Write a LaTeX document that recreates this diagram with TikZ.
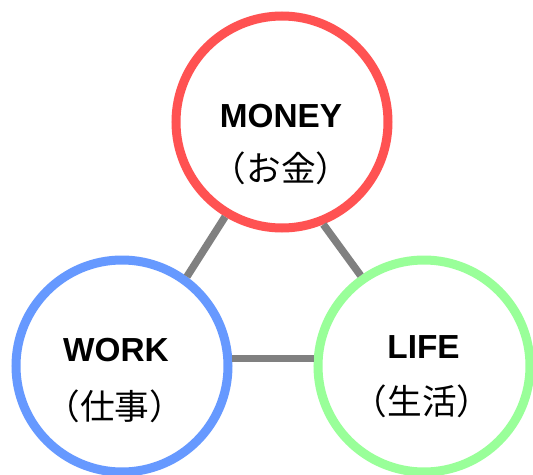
\documentclass[tikz,border=0pt]{standalone}
\usepackage{fontspec}
\setmainfont{Liberation Sans}
\newfontfamily\cjk{Noto Sans CJK JP}
\definecolor{cred}{HTML}{FF5252}
\definecolor{cblue}{HTML}{6699FF}
\definecolor{cgreen}{HTML}{99FF99}
\definecolor{cgray}{HTML}{808080}
\tikzset{
  ring/.style={circle, draw, line width=6.75pt, inner sep=0pt, minimum size=159pt},
  link/.style={draw=cgray, line width=5.6pt},
  entext/.style={font=\bfseries\fontsize{25pt}{30pt}\selectfont, anchor=base, inner sep=0pt},
  jptext/.style={font=\cjk\fontsize{26pt}{30pt}\selectfont, anchor=center, inner sep=0pt}
}
\begin{document}
\begin{tikzpicture}[x=0.75pt, y=-0.75pt]
\useasboundingbox (0,0) rectangle (533,475);
\fill[white] (0,0) rectangle (533,475);
\node[ring, draw=cred] (money) at (282,122) {};
\node[ring, draw=cblue] (work) at (122,366) {};
\node[ring, draw=cgreen] (life) at (424,366) {};
\draw[link] (money.239) -- (work.54);
\draw[link] (money.292) -- (life.125);
\draw[link] (work.4) -- (life.176);
\node[entext] (moneyen) at (281,127) {MONEY};
\node[jptext] (moneyjp) at (281,168) {（お金）};
\node[entext] (worken) at (116,361) {WORK};
\node[jptext] (workjp) at (115,406) {（仕事）};
\node[entext] (lifeen) at (423.5,358) {LIFE};
\node[jptext] (lifejp) at (422,401) {（生活）};
\end{tikzpicture}
\end{document}
